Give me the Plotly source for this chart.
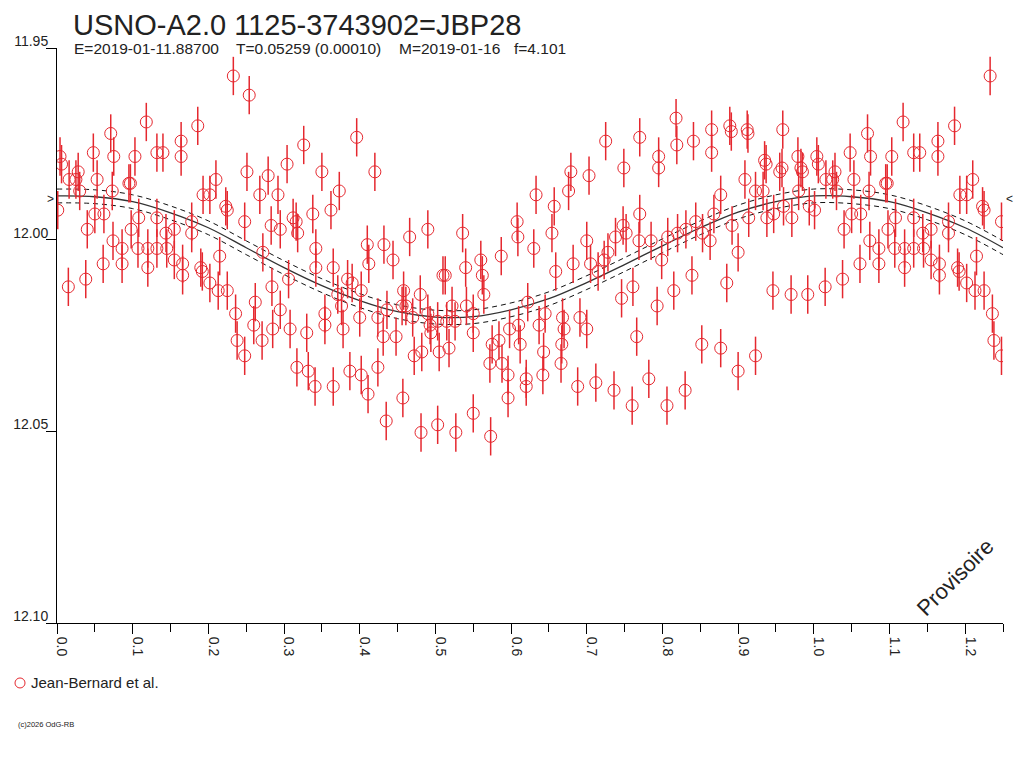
import plotly.graph_objects as go

phase = [0.233, 0.254, 0.118, 0.186, 0.071, 0.251, 0.004, 0.006, 0.048, 0.075,
         0.103, 0.132, 0.140, 0.164, 0.164, 0.016, 0.025, 0.028, 0.030, 0.053,
         0.073, 0.095, 0.097, 0.210, 0.193, 0.202, 0.223, 0.225, 0.248, 0.001,
         0.040, 0.050, 0.062, 0.098, 0.108, 0.132, 0.144, 0.155, 0.178, 0.178,
         0.074, 0.086, 0.107, 0.120, 0.132, 0.145, 0.215, 0.061, 0.086, 0.120,
         0.155, 0.166, 0.166, 0.190, 0.192, 0.202, 0.213, 0.225, 0.015, 0.038,
         0.236, 0.238, 0.248,
         0.396, 0.326, 0.279, 0.304, 0.350, 0.420, 0.373, 0.268, 0.292, 0.312,
         0.316, 0.318, 0.338, 0.362, 0.283, 0.295, 0.490, 0.466, 0.410, 0.432,
         0.444, 0.412, 0.342, 0.342, 0.365, 0.272, 0.306, 0.284, 0.384, 0.390,
         0.402, 0.510, 0.371, 0.376, 0.262, 0.295, 0.458, 0.480, 0.456, 0.461,
         0.436, 0.424, 0.400, 0.354, 0.354, 0.378, 0.470, 0.490, 0.493, 0.494,
         0.503, 0.260, 0.285, 0.308, 0.330, 0.271, 0.431, 0.448, 0.472, 0.482,
         0.505, 0.317, 0.332, 0.387, 0.402, 0.424, 0.341, 0.365, 0.411, 0.457,
         0.435, 0.481, 0.503,
         0.725, 0.770, 0.749, 0.679, 0.703, 0.676, 0.633, 0.657, 0.770, 0.608,
         0.748, 0.752, 0.738, 0.536, 0.654, 0.609, 0.700, 0.769, 0.630, 0.587,
         0.560, 0.728, 0.723, 0.705, 0.682, 0.540, 0.513, 0.562, 0.659, 0.715,
         0.761, 0.564, 0.746, 0.622, 0.522, 0.541, 0.550, 0.645, 0.668, 0.691,
         0.515, 0.526, 0.598, 0.610, 0.637, 0.670, 0.700, 0.550, 0.766, 0.575,
         0.584, 0.612, 0.667, 0.518, 0.643, 0.572, 0.588, 0.666, 0.596, 0.642,
         0.620, 0.620, 0.688, 0.712, 0.736, 0.760, 0.596, 0.550, 0.527, 0.573,
         0.818, 0.819, 0.841, 0.865, 0.889, 0.891, 0.912, 0.913, 0.959, 0.865,
         0.795, 0.795, 0.935, 0.937, 0.958, 0.955, 0.979, 0.983, 0.985, 0.909,
         0.923, 0.933, 0.980, 0.877, 0.994, 0.960, 0.947, 0.971, 0.938, 0.914,
         0.868, 0.892, 0.844, 0.831, 0.853, 0.863, 0.820, 0.807, 0.785, 0.799,
         0.900, 0.839, 0.815, 0.885, 0.793, 0.946, 0.970, 0.992, 0.852, 0.877,
         0.923, 0.900, 0.782, 0.830, 0.806]

mag = [11.9573, 11.9623, 11.9693, 11.9703, 11.9723, 11.9823, 11.9783, 11.9803, 11.9773, 11.9783,
       11.9783, 11.9773, 11.9773, 11.9743, 11.9783, 11.9843, 11.9843, 11.9823, 11.9873, 11.9843,
       11.9873, 11.9853, 11.9853, 11.9843, 11.9883, 11.9883, 11.9913, 11.9923, 11.9953, 11.9923,
       11.9973, 11.9933, 11.9933, 11.9973, 11.9943, 11.9943, 11.9983, 11.9973, 11.9953, 11.9983,
       12.0003, 12.0023, 12.0023, 12.0023, 12.0023, 12.0023, 12.0043, 12.0063, 12.0063, 12.0073,
       12.0053, 12.0063, 12.0093, 12.0073, 12.0083, 12.0113, 12.0133, 12.0133, 12.0123, 12.0103,
       12.0193, 12.0263, 12.0303,
       11.9733, 11.9753, 11.9833, 11.9803, 11.9823, 11.9823, 11.9873, 11.9883, 11.9883, 11.9943,
       11.9953, 11.9983, 11.9933, 11.9923, 11.9963, 11.9973, 11.9973, 11.9993, 12.0013, 12.0013,
       12.0053, 12.0063, 12.0023, 12.0073, 12.0073, 12.0033, 12.0103, 12.0123, 12.0103, 12.0113,
       12.0133, 12.0093, 12.0143, 12.0173, 12.0163, 12.0183, 12.0133, 12.0143, 12.0173, 12.0173,
       12.0183, 12.0203, 12.0203, 12.0193, 12.0223, 12.0233, 12.0203, 12.0193, 12.0223, 12.0243,
       12.0213, 12.0223, 12.0233, 12.0233, 12.0243, 12.0263, 12.0253, 12.0253, 12.0303, 12.0293,
       12.0293, 12.0333, 12.0343, 12.0343, 12.0353, 12.0333, 12.0383, 12.0383, 12.0403, 12.0413,
       12.0473, 12.0503, 12.0483,
       11.9743, 11.9733, 11.9813, 11.9823, 11.9833, 11.9873, 11.9883, 11.9913, 11.9933, 11.9953,
       11.9963, 11.9983, 11.9993, 11.9983, 11.9983, 11.9993, 12.0003, 12.0003, 12.0023, 12.0043,
       12.0053, 12.0033, 12.0053, 12.0063, 12.0063, 12.0073, 12.0093, 12.0093, 12.0083, 12.0083,
       12.0123, 12.0143, 12.0153, 12.0163, 12.0173, 12.0173, 12.0193, 12.0193, 12.0203, 12.0203,
       12.0213, 12.0213, 12.0233, 12.0223, 12.0223, 12.0233, 12.0233, 12.0243, 12.0253, 12.0273,
       12.0263, 12.0273, 12.0273, 12.0283, 12.0293, 12.0323, 12.0323, 12.0323, 12.0353, 12.0353,
       12.0363, 12.0383, 12.0383, 12.0373, 12.0393, 12.0433, 12.0413, 12.0453, 12.0503, 12.0513,
       11.9683, 11.9753, 11.9743, 11.9713, 11.9703, 11.9718, 11.9713, 11.9723, 11.9713, 11.9773,
       11.9783, 11.9813, 11.9793, 11.9803, 11.9813, 11.9823, 11.9783, 11.9813, 11.9823, 11.9843,
       11.9873, 11.9873, 11.9873, 11.9883, 11.9913, 11.9913, 11.9933, 11.9943, 11.9943, 11.9943,
       11.9933, 11.9963, 11.9953, 11.9973, 11.9983, 12.0003, 11.9983, 11.9993, 12.0003, 12.0053,
       12.0033, 12.0093, 12.0133, 12.0113, 12.0173, 12.0133, 12.0143, 12.0143, 12.0273, 12.0283,
       12.0303, 12.0343, 12.0363, 12.0393, 12.0433]

mag_err = 0.005

# fitted light curve and its uncertainty band
fit_phase = [0.00, 0.05, 0.10, 0.15, 0.20, 0.25, 0.30, 0.35, 0.40, 0.45,
             0.50, 0.55, 0.60, 0.65, 0.70, 0.75, 0.80, 0.85, 0.90, 0.95,
             1.00, 1.05, 1.10, 1.15, 1.20, 1.25]
fit_mag = [11.9886, 11.9888, 11.9901, 11.9930, 11.9969, 12.0021, 12.0073, 12.0120, 12.0159, 12.0188,
           12.0202, 12.0201, 12.0183, 12.0154, 12.0112, 12.0065, 12.0016, 11.9969, 11.9928, 11.9901,
           11.9886, 11.9888, 11.9901, 11.9930, 11.9969, 12.0021]
fit_err = 0.0018
max_level = 11.9893

x_ticks = [0.0, 0.1, 0.2, 0.3, 0.4, 0.5, 0.6, 0.7, 0.8, 0.9, 1.0, 1.1, 1.2]
y_ticks = [11.95, 12.00, 12.05, 12.10]

subtitle = ['E=2019-01-11.88700', 'T=0.05259 (0.00010)', 'M=2019-01-16', 'f=4.101']
subtitle_x = [0.0159, 0.1871, 0.3594, 0.4810]

# phases below 0.25 are shown again after 1.0
plot_phase = phase + [p + 1 for p in phase if p < 0.25]
plot_mag = mag + [m for p, m in zip(phase, mag) if p < 0.25]

red = '#e5282f'
font = 'Liberation Sans, Arial, sans-serif'

fig = go.Figure()

fig.add_trace(go.Scatter(x=fit_phase, y=[m - fit_err for m in fit_mag], mode='lines',
                         line=dict(color='#111', width=1, dash='5px,4px', shape='spline'),
                         showlegend=False, hoverinfo='skip'))
fig.add_trace(go.Scatter(x=fit_phase, y=[m + fit_err for m in fit_mag], mode='lines',
                         line=dict(color='#111', width=1, dash='5px,4px', shape='spline'),
                         showlegend=False, hoverinfo='skip'))
fig.add_trace(go.Scatter(x=fit_phase, y=fit_mag, mode='lines',
                         line=dict(color='#333', width=1.3, shape='spline'),
                         showlegend=False, hoverinfo='skip'))

fig.add_trace(go.Scatter(x=plot_phase, y=plot_mag, mode='markers', name='Jean-Bernard et al.',
                         marker=dict(symbol='circle-open', size=12, color=red, line=dict(width=1)),
                         error_y=dict(type='constant', value=mag_err, color=red, thickness=1.5, width=0),
                         showlegend=False))

fig.update_layout(
    width=1024, height=768,
    margin=dict(l=49, r=29, t=40, b=153, autoexpand=False),
    paper_bgcolor='white', plot_bgcolor='white',
    font=dict(family=font, color='#222', size=14),
    showlegend=False,
)

fig.update_xaxes(range=[0, 1.25], tickvals=x_ticks, ticktext=['%.1f' % t for t in x_ticks],
                 tickangle=90, ticks='outside', ticklen=10, tickcolor='black',
                 ticklabelshift=5,
                 minor=dict(dtick=0.05, tick0=0, ticks='outside', ticklen=8, tickcolor='black'),
                 showline=True, linecolor='black', linewidth=1, showgrid=False, zeroline=False,
                 tickfont=dict(size=14))
fig.update_yaxes(range=[12.10, 11.95], tickvals=y_ticks, ticktext=['%.2f' % t for t in y_ticks],
                 ticks='outside', ticklen=10, tickcolor='black', ticklabelshift=7,
                 ticklabelstandoff=-5,
                 showline=True, linecolor='black', linewidth=1, showgrid=False, zeroline=False,
                 tickfont=dict(size=14))

fig.add_annotation(text='USNO-A2.0 1125-3743902=JBP28', xref='paper', yref='paper',
                   x=0.0159, y=1.0, yshift=23, xanchor='left', yanchor='middle', borderpad=0,
                   showarrow=False, font=dict(size=29, color='#222'))
for label, xpos in zip(subtitle, subtitle_x):
    fig.add_annotation(text=label, xref='paper', yref='paper', x=xpos, y=1.0, yshift=0,
                       xanchor='left', yanchor='middle', showarrow=False,
                       font=dict(size=15.5, color='#222'))

# legend drawn by hand: open red circle and label below the axis
fig.add_shape(type='circle', xref='paper', yref='paper',
              x0=-0.0444, x1=-0.0338, y0=-0.1130, y1=-0.0956,
              line=dict(color=red, width=1))
fig.add_annotation(text='Jean-Bernard et al.', xref='paper', yref='paper', x=-0.0296, y=-0.1043,
                   xanchor='left', yanchor='middle', showarrow=False, font=dict(size=15, color='#222'))

fig.add_annotation(text='Provisoire', xref='paper', yref='paper', x=0.949, y=0.080,
                   xanchor='center', yanchor='middle',
                   textangle=-45, showarrow=False, font=dict(size=22, color='#222'))
fig.add_annotation(text='(c)2026 OdG-RB', xref='paper', yref='paper', x=-0.0432, y=-0.1757,
                   xanchor='left', yanchor='middle', showarrow=False, font=dict(size=7.5, color='#222'))
fig.add_annotation(text='>', x=0, y=max_level, xanchor='right', xshift=-1, showarrow=False,
                   font=dict(size=12, color='#222'))
fig.add_annotation(text='<', x=1.25, y=max_level, xanchor='left', xshift=1, showarrow=False,
                   font=dict(size=12, color='#222'))

fig.write_html("out.html")
